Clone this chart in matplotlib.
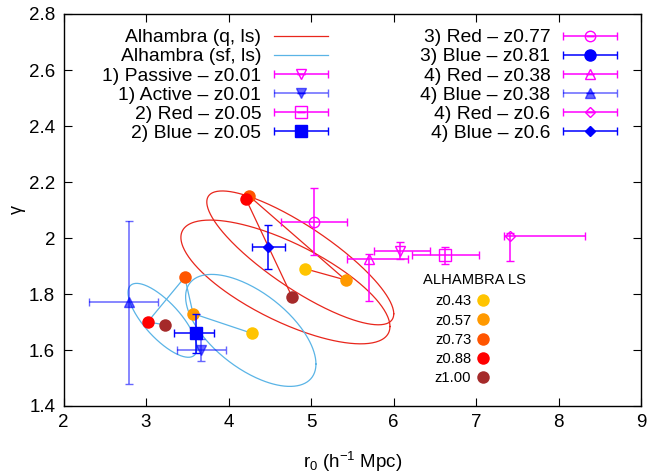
import numpy as np
import matplotlib.pyplot as plt
from matplotlib.legend_handler import HandlerErrorbar
from matplotlib.ticker import FormatStrFormatter

plt.rcParams['font.family'] = 'Liberation Sans'
plt.rcParams['mathtext.fontset'] = 'custom'
plt.rcParams['mathtext.rm'] = 'Liberation Sans'
plt.rcParams['mathtext.it'] = 'Liberation Sans:italic'

# --- ALHAMBRA LS (quiescent / star-forming) per redshift bin ---
ls_z = ['z0.43', 'z0.57', 'z0.73', 'z0.88', 'z1.00']
ls_colors = ['#ffc400', '#ff9900', '#ff5500', '#ff0000', '#a52a2a']
q_r0 = [4.93, 5.42, 4.25, 4.21, 4.77]
q_gamma = [1.89, 1.85, 2.15, 2.14, 1.79]
sf_r0 = [4.28, 3.57, 3.47, 3.02, 3.23]
sf_gamma = [1.66, 1.73, 1.86, 1.70, 1.69]

# 1-sigma ellipses: centre, sigma_r0, sigma_gamma, correlation
q_ell_r0 = [4.87, 4.69]
q_ell_gamma = [1.929, 1.843]
q_ell_sr = [1.133, 1.267]
q_ell_sg = [0.239, 0.221]
q_ell_rho = [-0.835, -0.72]

sf_ell_r0 = [3.20, 4.27]
sf_ell_gamma = [1.706, 1.670]
sf_ell_sr = [0.418, 0.79]
sf_ell_sg = [0.132, 0.200]
sf_ell_rho = [-0.75, -0.60]

# --- literature measurements ---
lit_labels = ['1) Passive – z0.01', '1) Active – z0.01',
              '2) Red – z0.05', '2) Blue – z0.05',
              '3) Red – z0.77', '3) Blue – z0.81',
              '4) Red – z0.38', '4) Blue – z0.38',
              '4) Red – z0.6', '4) Blue – z0.6']
lit_r0 = [6.08, 3.67, 6.63, 3.60, 5.04, np.nan, 5.70, 2.80, 7.41, 4.48]
lit_r0_lo = [0.32, 0.30, 0.41, 0.26, 0.40, np.nan, 0.26, 0.49, 0.07, 0.20]
lit_r0_hi = [0.36, 0.30, 0.41, 0.23, 0.40, np.nan, 0.48, 0.35, 0.91, 0.21]
lit_gamma = [1.955, 1.60, 1.938, 1.66, 2.058, np.nan, 1.924, 1.77, 2.008, 1.968]
lit_gamma_lo = [0.03, 0.04, 0.03, 0.07, 0.12, np.nan, 0.15, 0.29, 0.09, 0.08]
lit_gamma_hi = [0.03, 0.04, 0.03, 0.07, 0.12, np.nan, 0.02, 0.29, 0.01, 0.08]

lit_colors = ['#ff00ff', '#0000ff'] * 5
lit_markers = ['v', 'v', 's', 's', 'o', 'o', '^', '^', 'D', 'D']
lit_msize = [7, 7, 8, 9, 7.5, 8, 7, 6.5, 5, 5]
lit_alpha = [1, 0.6, 1, 1, 1, 1, 1, 0.6, 1, 1]

red_line = '#e8261c'
blue_line = '#5ab4e6'

fig = plt.figure(figsize=(6.47, 4.75), dpi=100)
ax = fig.add_axes([63.5 / 647, 1 - 406 / 475, 577.5 / 647, 392 / 475])


def ellipse(cx, cy, sx, sy, rho):
    t = np.linspace(0, 2 * np.pi, 300)
    x = cx + sx * np.cos(t)
    y = cy + sy * (rho * np.cos(t) + np.sqrt(1 - rho ** 2) * np.sin(t))
    return x, y


for i in range(len(q_ell_r0)):
    ex, ey = ellipse(q_ell_r0[i], q_ell_gamma[i], q_ell_sr[i], q_ell_sg[i], q_ell_rho[i])
    ax.plot(ex, ey, color=red_line, lw=0.9, zorder=1)
for i in range(len(sf_ell_r0)):
    ex, ey = ellipse(sf_ell_r0[i], sf_ell_gamma[i], sf_ell_sr[i], sf_ell_sg[i], sf_ell_rho[i])
    ax.plot(ex, ey, color=blue_line, lw=0.9, zorder=1)

q_line, = ax.plot(q_r0, q_gamma, color=red_line, lw=0.9, zorder=1)
sf_line, = ax.plot(sf_r0, sf_gamma, color=blue_line, lw=0.9, zorder=1)

ls_handles = []
for i in range(len(ls_z)):
    h, = ax.plot([q_r0[i], sf_r0[i]], [q_gamma[i], sf_gamma[i]], 'o', ms=9,
                 color=ls_colors[i], mec='none', zorder=2)
    ls_handles.append(h)

lit_handles = []
for i in range(len(lit_labels)):
    filled = i % 2 == 1
    h = ax.errorbar([lit_r0[i]], [lit_gamma[i]],
                    xerr=[[lit_r0_lo[i]], [lit_r0_hi[i]]],
                    yerr=[[lit_gamma_lo[i]], [lit_gamma_hi[i]]],
                    fmt=lit_markers[i], ms=lit_msize[i], color=lit_colors[i],
                    mfc=lit_colors[i] if filled else 'none', mec=lit_colors[i],
                    mew=1.0, elinewidth=1.1, capsize=3, capthick=1.0,
                    alpha=lit_alpha[i], zorder=3)
    lit_handles.append(h)

ax.set_xlim(2, 9)
ax.set_ylim(1.4, 2.8)
ax.set_xticks(np.arange(2, 10, 1))
ax.set_yticks(np.arange(1.4, 2.81, 0.2))
ax.yaxis.set_major_formatter(FormatStrFormatter('%g'))
ax.tick_params(direction='in', length=6, width=0.8, top=True, right=True,
               labelsize=13.5, pad=6)
for sp in ax.spines.values():
    sp.set_linewidth(1.0)

ax.set_xlabel(r'r$_0$ (h$^{-1}$ Mpc)', fontsize=13.5, labelpad=13.5)
ax.set_ylabel('γ', fontsize=13, labelpad=2.5)

err_handler = HandlerErrorbar(xerr_size=1.4, yerr_size=0)
leg1 = ax.legend([q_line, sf_line] + lit_handles,
                 ['Alhambra (q, ls)', 'Alhambra (sf, ls)'] + lit_labels,
                 ncol=2, loc='upper right', bbox_to_anchor=(0.9584, 0.962),
                 frameon=False, markerfirst=False, fontsize=13.9,
                 handlelength=2.78, handletextpad=0.67, columnspacing=4.78,
                 labelspacing=0.08, borderpad=0, borderaxespad=0,
                 handler_map={type(lit_handles[0]): err_handler})
ax.add_artist(leg1)

ax.text(0.623, 0.321, 'ALHAMBRA LS', transform=ax.transAxes, fontsize=10.6,
        ha='left', va='center')
leg2 = ax.legend(ls_handles, ls_z, loc='upper left',
                 bbox_to_anchor=(0.643, 0.2846), frameon=False, markerfirst=False,
                 fontsize=10.6, handlelength=0.75, handletextpad=0.45,
                 labelspacing=0.35, borderpad=0, borderaxespad=0)

fig.savefig('out.png', dpi=100)
